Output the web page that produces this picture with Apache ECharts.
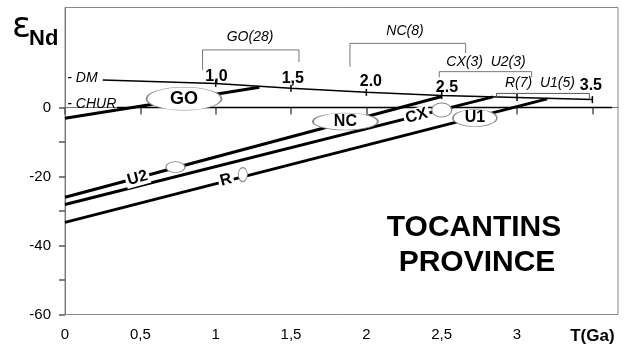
<!DOCTYPE html>
<html><head><meta charset="utf-8">
<script src="https://cdn.jsdelivr.net/npm/echarts@6/dist/echarts.min.js"></script>
<style>html,body{margin:0;padding:0;background:#fff}#c{width:624px;height:349px}</style>
</head><body><div id="c"></div>
<script>
// ---- axis ticks / labels ----
const X_TICKS = [0, 0.5, 1, 1.5, 2, 2.5, 3, 3.5];
const X_LABELS = ['0', '0,5', '1', '1,5', '2', '2,5', '3', 'T(Ga)'];
const Y_TICKS = [-60, -50, -40, -30, -20, -10, 0];
const Y_LABELS = [-60, -40, -20, 0];

// ---- reference curves ----
const DM_T = [0.25, 1.0, 1.5, 2.0, 2.5, 3.0, 3.5];
const DM_E = [8.0, 7.0, 5.6, 4.4, 3.5, 2.9, 2.3];
const CHUR_T = [0.345, 3.63];
const CHUR_E = [0, 0];

// ---- crustal evolution lines ----
const GO_T = [0, 1.29];      const GO_E = [-3.1, 5.9];
const U2NC_T = [0, 2.5];     const U2NC_E = [-26.0, 3.2];
const CX_T = [0, 2.84];      const CX_E = [-28.1, 3.1];
const RU1_T = [0, 3.2];      const RU1_E = [-33.3, 2.5];

// ---- T_DM range brackets ----
const BR_GO_T = [0.913, 0.913, 1.553, 1.553];   const BR_GO_E = [10.9, 16.7, 16.7, 13.2];
const BR_NC_T = [1.891, 1.891, 2.659, 2.659];   const BR_NC_E = [11.8, 18.6, 18.6, 15.8];
const BR_CXU2_T = [2.484, 2.484, 3.097, 3.097]; const BR_CXU2_E = [8.8, 10.4, 10.4, 8.8];
const BR_RU1_T = [2.864, 2.864, 3.48, 3.48];    const BR_RU1_E = [3.0, 4.1, 4.1, 2.2];

const BR_TEXT = ['GO(28)', 'NC(8)', 'CX(3)  U2(3)', 'R(7)  U1(5)'];
const BR_TEXT_T = [1.228, 2.256, 2.794, 3.152];
const BR_TEXT_E = [20.5, 22.2, 13.3, 7.1];

// ---- DM age marks ----
const DM_AGE_TEXT = ['1,0', '1,5', '2.0', '2.5', '3.5'];
const DM_AGE_T = [1.005, 1.512, 2.03, 2.535, 3.49];
const DM_AGE_E = [8.84, 8.26, 7.39, 5.65, 6.23];

// ---- sample group ellipses ----
const ELL_NAME = ['GO', 'NC', 'CX', 'U1', 'U2', 'R'];
const ELL_T = [0.79, 1.861, 2.50, 2.72, 0.733, 1.18];
const ELL_E = [2.55, -4.06, -0.72, -3.04, -17.25, -19.43];
const ELL_TEXT = ['GO', 'NC', '', 'U1', '', ''];

// ---- labels on lines ----
const LINE_TEXT = ['U2', 'R', 'CX'];
const LINE_TEXT_T = [0.481, 1.068, 2.334];
const LINE_TEXT_E = [-20.44, -21.0, -2.4];

// ---- curve names ----
const CURVE_TEXT = ['- DM', '- CHUR'];
const CURVE_TEXT_T = [0.015, 0.015];
const CURVE_TEXT_E = [8.4, 1.0];

// styling (not data)
const ELL_SIZE = { GO: [75, 23], NC: [65, 17], CX: [20, 14], U1: [44, 17], U2: [19, 11], R: [9, 14] };
const FONT = '"Liberation Sans", Arial, sans-serif';

const zip = (a, b) => a.map((v, i) => [v, b[i]]);

function lineSeries(t, e, w, color, z) {
  return { type: 'line', data: zip(t, e), symbol: 'none', silent: true, z: z,
    lineStyle: { width: w, color: color }, animation: false };
}
function textSeries(texts, t, e, label) {
  return { type: 'scatter', silent: true, z: 6, animation: false, symbolSize: 0,
    itemStyle: { opacity: 1 },
    data: texts.map((s, i) => ({ value: [t[i], e[i]], name: s })),
    label: Object.assign({ show: true, position: 'inside', formatter: p => p.name,
      color: '#000', fontFamily: FONT }, label) };
}

const chart = echarts.init(document.getElementById('c'), null, { renderer: 'canvas' });

const series = [
  lineSeries(CHUR_T, CHUR_E, 1.5, '#000', 2),
  lineSeries(DM_T, DM_E, 1.5, '#000', 2),
  lineSeries(GO_T, GO_E, 3, '#000', 3),
  lineSeries(U2NC_T, U2NC_E, 3, '#000', 3),
  lineSeries(CX_T, CX_E, 3, '#000', 3),
  lineSeries(RU1_T, RU1_E, 3, '#000', 3),
  lineSeries(BR_GO_T, BR_GO_E, 1, '#777', 2),
  lineSeries(BR_NC_T, BR_NC_E, 1, '#777', 2),
  lineSeries(BR_CXU2_T, BR_CXU2_E, 1, '#777', 2),
  lineSeries(BR_RU1_T, BR_RU1_E, 1, '#555', 2),
  { // DM ticks
    type: 'scatter', silent: true, z: 3, animation: false,
    data: zip(DM_T.slice(1), DM_E.slice(1)),
    symbol: 'rect', symbolSize: [1.5, 7], itemStyle: { color: '#000', opacity: 1 }
  },
  { // ellipses
    type: 'scatter', silent: true, z: 5, animation: false,
    data: ELL_NAME.map((n, i) => ({
      value: [ELL_T[i], ELL_E[i]], name: n,
      symbolSize: ELL_SIZE[n],
      label: { show: ELL_TEXT[i] !== '', formatter: ELL_TEXT[i],
        fontSize: n === 'GO' ? 18 : 16 }
    })),
    symbol: 'circle',
    itemStyle: { color: '#fff', borderColor: '#888', borderWidth: 1, opacity: 1 },
    label: { position: 'inside', color: '#000', fontWeight: 'bold', fontFamily: FONT }
  },
  textSeries(LINE_TEXT, LINE_TEXT_T, LINE_TEXT_E,
    { rotate: 15, fontWeight: 'bold', fontSize: 16, backgroundColor: '#fff', padding: [0, 2] }),
  textSeries(BR_TEXT, BR_TEXT_T, BR_TEXT_E, { fontStyle: 'italic', fontSize: 14 }),
  textSeries(DM_AGE_TEXT, DM_AGE_T, DM_AGE_E, { fontWeight: 'bold', fontSize: 16 }),
  textSeries(CURVE_TEXT, CURVE_TEXT_T, CURVE_TEXT_E, { align: 'left', fontStyle: 'italic', fontSize: 14 })
];

chart.setOption({
  animation: false,
  backgroundColor: '#fff',
  grid: { left: 65, right: 6, top: 7.5, bottom: 34.5, show: true, borderColor: '#888', borderWidth: 1 },
  xAxis: {
    type: 'value', min: 0, max: 3.67,
    axisLine: { lineStyle: { color: '#777', width: 1 } },
    axisTick: { customValues: X_TICKS, length: 7, lineStyle: { color: '#555', width: 1.5 } },
    axisLabel: { customValues: X_TICKS, margin: 13, fontSize: 15, color: '#000', fontFamily: FONT,
      formatter: v => {
        const i = X_TICKS.findIndex(t => Math.abs(t - v) < 1e-6);
        if (i < 0) return '';
        return i === X_TICKS.length - 1 ? '{b|' + X_LABELS[i] + '}' : X_LABELS[i];
      },
      rich: { b: { fontWeight: 'bold', fontSize: 17, fontFamily: FONT, color: '#000' } } },
    splitLine: { show: false }
  },
  yAxis: {
    type: 'value', min: -60, max: 29,
    axisLine: { show: true, lineStyle: { color: '#777', width: 1 } },
    axisTick: { show: true, customValues: Y_TICKS, length: 6, lineStyle: { color: '#555', width: 1.5 } },
    axisLabel: { customValues: Y_LABELS, margin: 14, fontSize: 15, color: '#000', fontFamily: FONT },
    splitLine: { show: false }
  },
  graphic: [
    { type: 'text', left: 12, top: 10, silent: true,
      style: { text: 'ε', font: '35px "DejaVu Sans", sans-serif', fill: '#000' } },
    { type: 'text', left: 29, top: 28, silent: true,
      style: { text: 'Nd', font: 'bold 22px ' + FONT, fill: '#000' } },
    { type: 'text', x: 474, y: 227.5, silent: true,
      style: { text: 'TOCANTINS', font: 'bold 30px ' + FONT, fill: '#000', align: 'center', verticalAlign: 'middle' } },
    { type: 'text', x: 477, y: 263, silent: true,
      style: { text: 'PROVINCE', font: 'bold 30px ' + FONT, fill: '#000', align: 'center', verticalAlign: 'middle' } }
  ],
  series: series
});
</script></body></html>
